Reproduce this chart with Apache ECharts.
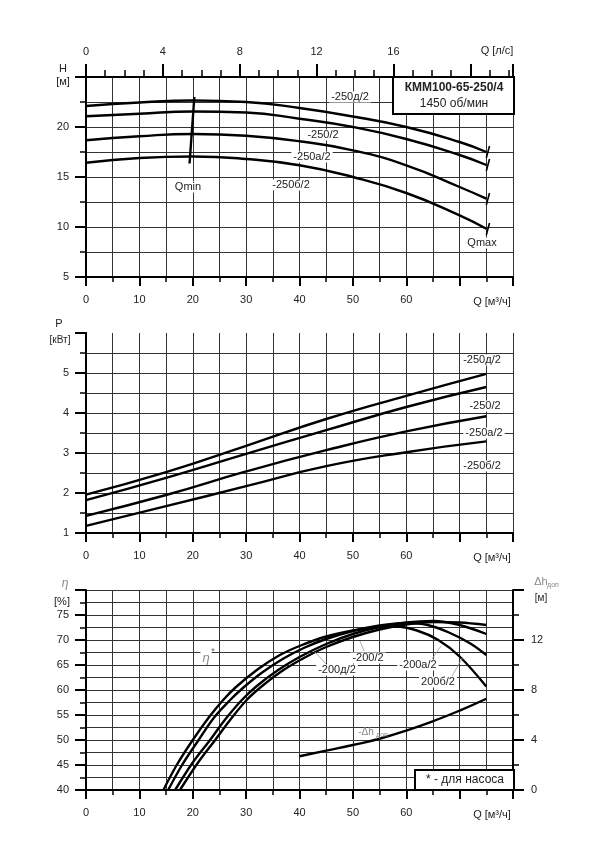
<!DOCTYPE html>
<html><head><meta charset="utf-8">
<script src="https://cdn.jsdelivr.net/npm/echarts@6/dist/echarts.min.js"></script>
<style>html,body{margin:0;padding:0;background:#fff}#c{width:600px;height:848px}</style>
</head><body><div id="c"></div>
<script>
// ---------- DATA ----------
// Head curves H [м] vs Q [м³/ч]
const qHead    = [0, 10, 20, 30, 40, 50, 60, 70, 75];
const head250d = [22.1, 22.45, 22.65, 22.5, 21.9, 21.05, 20.0, 18.5, 17.5];
const head250  = [21.07, 21.33, 21.55, 21.45, 20.83, 20.0, 18.8, 17.2, 16.2];
const head250a = [18.67, 19.07, 19.3, 19.12, 18.57, 17.67, 16.17, 14.0, 12.83];
const head250b = [16.43, 16.9, 17.05, 16.8, 16.17, 15.0, 13.4, 11.17, 9.83];
const qminLine = [[20.3, 23.0], [19.4, 16.35]];
const qmaxTicks = [
  [[75.6, 18.1], [75.0, 16.9]],
  [[75.6, 16.8], [75.0, 15.6]],
  [[75.6, 13.4], [75.0, 12.2]],
  [[75.6, 10.4], [75.0, 9.2]]
];
// Power curves P [кВт]
const qPower    = [0, 15, 30, 45, 60, 75];
const power250d = [1.96, 2.52, 3.18, 3.85, 4.43, 4.98];
const power250  = [1.82, 2.38, 2.98, 3.57, 4.15, 4.65];
const power250a = [1.43, 1.95, 2.54, 3.07, 3.54, 3.92];
const power250b = [1.18, 1.67, 2.17, 2.67, 3.02, 3.29];
// Efficiency curves η [%]
const qEffB   = [14.5, 17, 20, 23, 25.7, 28, 32, 36, 40, 45, 50, 55, 58, 62, 66, 70, 75];
const eff200b = [40, 45, 50, 54.5, 58, 60.5, 64, 66.8, 68.8, 70.7, 71.9, 72.6, 72.7, 71.9, 70, 66.7, 60.7];
const qEffA   = [15.4, 18, 21.1, 24, 27, 29.5, 33, 37, 41, 45, 50, 55, 60, 64, 68, 72, 75];
const eff200a = [40, 45, 50, 54.5, 58, 60.5, 63.5, 66.3, 68.5, 70.2, 71.8, 72.9, 73.4, 73, 71.5, 69.3, 67];
const qEff0   = [16.7, 20, 23.25, 26, 29.2, 32, 36, 40, 45, 50, 55, 60, 65, 70, 75];
const eff200  = [40, 45.5, 50, 54, 58, 60.8, 64, 66.6, 69.2, 71.2, 72.6, 73.5, 73.8, 73, 71.2];
const qEffD   = [17.6, 21, 24.2, 27, 30.1, 33, 37, 41, 45, 50, 55, 60, 65, 70, 75];
const eff200d = [40, 45.5, 50, 54, 58, 60.8, 64, 66.5, 68.6, 70.6, 72.1, 73.1, 73.6, 73.5, 73];
// NPSH Δh доп [м]
const qNpsh = [40, 45, 50, 55, 60, 65, 70, 75];
const npsh  = [2.7, 3.15, 3.6, 4.1, 4.75, 5.5, 6.35, 7.3];
// Tick label sets
const qLabels  = [0, 10, 20, 30, 40, 50, 60];
const lsLabels = [0, 4, 8, 12, 16];

// ---------- CHART ----------
const FF = '"Liberation Sans", Arial, sans-serif';
const pair = (xs, ys) => xs.map((x, i) => [x, ys[i]]);
const chart = echarts.init(document.getElementById('c'), null, {renderer: 'canvas'});

const gridLine = {show: true, lineStyle: {color: '#333', width: 1}};
function bottomX(gi) {
  return {
    type: 'value', gridIndex: gi, position: 'bottom', min: 0, max: 80, interval: 10,
    axisLine: {show: true, onZero: false, lineStyle: {color: '#000', width: 2}},
    axisTick: {show: true, length: 9, lineStyle: {color: '#000', width: 2}},
    minorTick: {show: true, splitNumber: 2, length: 5, lineStyle: {color: '#000', width: 1.5}},
    splitLine: gridLine, minorSplitLine: gridLine,
    axisLabel: {margin: 17, color: '#222', fontSize: 11, fontFamily: FF,
      formatter: v => qLabels.indexOf(v) >= 0 ? String(v) : ''}
  };
}
function leftY(gi, min, max, iv, labelMax, extra) {
  return Object.assign({
    type: 'value', gridIndex: gi, position: 'left', min: min, max: max, interval: iv,
    axisLine: {show: true, onZero: false, lineStyle: {color: '#000', width: 2}},
    axisTick: {show: true, length: 11, lineStyle: {color: '#000', width: 2}},
    minorTick: {show: true, splitNumber: 2, length: 6, lineStyle: {color: '#000', width: 1.5}},
    splitLine: gridLine, minorSplitLine: gridLine,
    axisLabel: {margin: 17, color: '#222', fontSize: 11, fontFamily: FF,
      formatter: v => v <= labelMax ? String(v) : ''}
  }, extra || {});
}
function rightBorder(gi, min, max) {
  return {type: 'value', gridIndex: gi, position: 'right', min: min, max: max,
    axisLine: {show: true, lineStyle: {color: '#000', width: 2}},
    axisTick: {show: false}, axisLabel: {show: false}, splitLine: {show: false}};
}
const curve = (name, data, xi, yi, w, sm) => ({
  name: name, type: 'line', xAxisIndex: xi, yAxisIndex: yi, data: data,
  smooth: sm === undefined ? 0.5 : sm, showSymbol: false, silent: true, clip: false,
  lineStyle: {color: '#000', width: w || 2.4}
});

const series = [
  curve('-250д/2', pair(qHead, head250d), 0, 0),
  curve('-250/2', pair(qHead, head250), 0, 0),
  curve('-250а/2', pair(qHead, head250a), 0, 0),
  curve('-250б/2', pair(qHead, head250b), 0, 0),
  curve('Qmin', qminLine, 0, 0, 2.4, false),
  curve('P -250д/2', pair(qPower, power250d), 3, 2),
  curve('P -250/2', pair(qPower, power250), 3, 2),
  curve('P -250а/2', pair(qPower, power250a), 3, 2),
  curve('P -250б/2', pair(qPower, power250b), 3, 2),
  curve('η -200б/2', pair(qEffB, eff200b), 4, 4, 2.4, 0.35),
  curve('η -200а/2', pair(qEffA, eff200a), 4, 4, 2.4, 0.35),
  curve('η -200/2', pair(qEff0, eff200), 4, 4, 2.4, 0.35),
  curve('η -200д/2', pair(qEffD, eff200d), 4, 4, 2.4, 0.35),
  curve('Δh доп', pair(qNpsh, npsh), 4, 5)
];
qmaxTicks.forEach((seg, i) => series.push(curve('Qmax' + i, seg, 0, 0, 1.6, false)));

function txt(x, y, text, opt) {
  opt = opt || {};
  return {type: 'text', x: x, y: y, z: 100, silent: true,
    style: Object.assign({text: text, fill: '#222', font: (opt.italic ? 'italic ' : '') + (opt.bold ? 'bold ' : '') + (opt.size || 11) + 'px ' + FF,
      align: opt.align || 'center', verticalAlign: 'middle',
      backgroundColor: opt.bg ? '#fff' : null, padding: opt.bg ? [0, 2] : 0}, opt.fill ? {fill: opt.fill} : {})};
}
function lead(x1, y1, x2, y2) {
  return {type: 'line', z: 99, silent: true, shape: {x1: x1, y1: y1, x2: x2, y2: y2},
    style: {stroke: '#999', lineWidth: 0.8}};
}

const graphics = [
  // axis titles
  txt(497, 51, 'Q [л/с]'),
  txt(63, 69, 'H'), txt(63, 82, '[м]'),
  txt(492, 302, 'Q [м³/ч]'),
  txt(59, 324, 'P'), txt(60, 340, '[кВт]', {size: 10}),
  txt(492, 558, 'Q [м³/ч]'),
  txt(65, 584, 'η', {italic: true, fill: '#888', size: 12}), txt(62, 602, '[%]'),
  txt(541, 582, 'Δh', {fill: '#888', size: 11}), txt(553, 585, 'доп', {fill: '#888', size: 7}),
  txt(541, 598, '[м]', {size: 10}),
  txt(492, 815, 'Q [м³/ч]'),
  // title box
  {type: 'rect', z: 98, silent: true, shape: {x: 393, y: 77, width: 121, height: 37},
    style: {fill: '#fff', stroke: '#000', lineWidth: 2}},
  txt(454, 88, 'КММ100-65-250/4', {bold: true, size: 12}),
  txt(454, 104, '1450 об/мин', {size: 12}),
  // head curve labels
  txt(350, 97, '-250д/2', {bg: true}),
  txt(323, 135, '-250/2', {bg: true}),
  txt(312, 157, '-250а/2', {bg: true}),
  txt(291, 185, '-250б/2', {bg: true}),
  txt(188, 187, 'Qmin', {bg: true}),
  txt(482, 243, 'Qmax', {bg: true}),
  // power labels
  txt(482, 360, '-250д/2', {bg: true}),
  txt(485, 406, '-250/2', {bg: true}),
  txt(484, 433, '-250а/2', {bg: true}),
  txt(482, 466, '-250б/2', {bg: true}),
  // efficiency labels
  txt(206, 658, 'η', {italic: true, fill: '#888', size: 13, bg: true}),
  txt(213, 652, '*', {fill: '#555', size: 9}),
  lead(315, 652, 326, 664), txt(337, 670, '-200д/2', {bg: true}),
  lead(360, 641, 364, 651), txt(368, 658, '-200/2', {bg: true}),
  lead(441, 646, 432, 659), txt(418, 665, '-200а/2', {bg: true}),
  lead(463, 657, 452, 676), txt(438, 682, '200б/2', {bg: true}),
  txt(366, 732, '-Δh', {fill: '#888', size: 10}), txt(382, 735, 'доп', {fill: '#888', size: 7}),
  // legend box
  {type: 'rect', z: 98, silent: true, shape: {x: 415, y: 770, width: 99, height: 20},
    style: {fill: '#fff', stroke: '#000', lineWidth: 2}},
  txt(465, 780, '* - для насоса', {size: 12})
];

chart.setOption({
  animation: false,
  backgroundColor: '#fff',
  grid: [
    {left: 86, top: 77, width: 427, height: 200},
    {left: 86, top: 333, width: 427, height: 200},
    {left: 86, top: 590, width: 427, height: 200}
  ],
  xAxis: [
    bottomX(0),
    {type: 'value', gridIndex: 0, position: 'top', min: 0, max: 80 / 3.6, interval: 1,
      axisLine: {show: true, onZero: false, lineStyle: {color: '#000', width: 2}},
      axisTick: {show: true, length: 7, lineStyle: {color: '#000', width: 1.5}},
      axisLabel: {show: false}, splitLine: {show: false}},
    {type: 'value', gridIndex: 0, position: 'top', min: 0, max: 80 / 3.6, interval: 4,
      axisLine: {show: true, onZero: false, lineStyle: {color: '#000', width: 2}},
      axisTick: {show: true, length: 13, lineStyle: {color: '#000', width: 2}},
      axisLabel: {margin: 20, color: '#222', fontSize: 11, fontFamily: FF,
        formatter: v => lsLabels.indexOf(v) >= 0 ? String(v) : ''},
      splitLine: {show: false}},
    bottomX(1),
    bottomX(2)
  ],
  yAxis: [
    leftY(0, 5, 25, 5, 20),
    rightBorder(0, 5, 25),
    leftY(1, 1, 6, 1, 5, {splitLine: {show: true, showMaxLine: false, lineStyle: {color: '#333', width: 1}}}),
    rightBorder(1, 1, 6),
    leftY(2, 40, 80, 5, 75),
    {type: 'value', gridIndex: 2, position: 'right', min: 0, max: 16, interval: 4,
      axisLine: {show: true, onZero: false, lineStyle: {color: '#000', width: 2}},
      axisTick: {show: true, length: 11, lineStyle: {color: '#000', width: 2}},
      minorTick: {show: true, splitNumber: 2, length: 6, lineStyle: {color: '#000', width: 1.5}},
      axisLabel: {margin: 18, color: '#222', fontSize: 11, fontFamily: FF,
        formatter: v => v <= 12 ? String(v) : ''},
      splitLine: {show: false}}
  ],
  series: series,
  graphic: graphics
});
</script>
</body></html>
